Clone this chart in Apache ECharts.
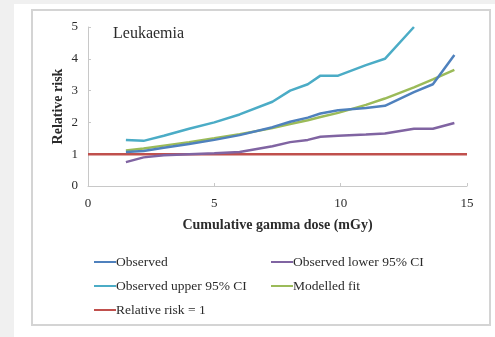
<!DOCTYPE html>
<html>
<head>
<meta charset="utf-8">
<script src="https://cdn.jsdelivr.net/npm/echarts@6/dist/echarts.min.js"></script>
<style>
  html, body { margin: 0; padding: 0; background: #f0f0f0; }
  #chart { width: 495px; height: 337px; }
</style>
</head>
<body>
<div id="chart"></div>
<script>
// Cumulative gamma dose (mGy) at which each estimate is reported
const doses = [1.5, 2.2, 3, 4, 5, 6, 7.3, 8, 8.7, 9.2, 9.9, 11, 11.75, 12.9, 13.65, 14.5];

// Relative risk estimates
const observed      = [1.07, 1.10, 1.20, 1.32, 1.45, 1.60, 1.85, 2.02, 2.15, 2.28, 2.38, 2.45, 2.52, 2.95, 3.20, 4.12];
const observedLower = [0.75, 0.90, 0.97, 1.00, 1.03, 1.07, 1.25, 1.38, 1.45, 1.55, 1.58, 1.62, 1.65, 1.80, 1.80, 1.98];
const observedUpper = [1.45, 1.42, 1.58, 1.80, 2.00, 2.25, 2.65, 3.00, 3.20, 3.47, 3.47, 3.80, 4.00, 5.00, null, null];
const modelledFit   = [1.12, 1.18, 1.27, 1.38, 1.50, 1.63, 1.82, 1.95, 2.07, 2.17, 2.30, 2.55, 2.75, 3.10, 3.35, 3.65];

// Reference line: relative risk of 1 across the whole dose range
const referenceDoses = [0, 15];
const referenceRisk  = [1, 1];

const xTicks = { min: 0, max: 15, interval: 5 };
const yTicks = { min: 0, max: 5, interval: 1 };

const serif = '"Liberation Serif", "DejaVu Serif", serif';
const ink = '#2b2b2b';

function pairs(xs, ys) {
  return xs.map((x, i) => [x, ys[i]]).filter(p => p[1] !== null);
}

function lineSeries(name, data, color) {
  return {
    name: name,
    type: 'line',
    data: data,
    showSymbol: false,
    symbol: 'none',
    lineStyle: { color: color, width: 2.5 },
    itemStyle: { color: color },
    emphasis: { disabled: true },
    clip: true
  };
}

const legendCommon = {
  orient: 'vertical',
  icon: 'rect',
  itemWidth: 22,
  itemHeight: 2,
  itemGap: 10,
  textStyle: { fontFamily: serif, fontSize: 13.5, color: ink, padding: [0, 0, 0, -5] },
  selectedMode: false
};

const chart = echarts.init(document.getElementById('chart'), null, { renderer: 'canvas' });
chart.setOption({
  animation: false,
  backgroundColor: 'transparent',
  graphic: [
    { type: 'rect', shape: { x: 14, y: 4, width: 481, height: 333 }, style: { fill: '#ffffff' }, z: -10 },
    { type: 'rect', shape: { x: 32, y: 10, width: 458, height: 315 }, style: { fill: '#ffffff', stroke: '#d4d4d4', lineWidth: 2 }, z: -9 },
    { type: 'text', left: 113, top: 26, style: { text: 'Leukaemia', font: '16px ' + serif, fill: ink } }
  ],
  grid: { left: 88, right: 28, top: 27, bottom: 151 },
  xAxis: {
    type: 'value',
    min: xTicks.min, max: xTicks.max, interval: xTicks.interval,
    name: 'Cumulative gamma dose (mGy)',
    nameLocation: 'middle',
    nameGap: 32,
    nameMoveOverlap: false,
    nameTextStyle: { fontFamily: serif, fontSize: 14, fontWeight: 'bold', color: ink },
    axisLine: { show: true, lineStyle: { color: '#c8c8c8', width: 1 } },
    axisTick: { show: true, inside: true, length: 3, lineStyle: { color: '#c8c8c8' } },
    axisLabel: { fontFamily: serif, fontSize: 13, color: ink, margin: 11 },
    splitLine: { show: false }
  },
  yAxis: {
    type: 'value',
    min: yTicks.min, max: yTicks.max, interval: yTicks.interval,
    name: 'Relative risk',
    nameLocation: 'middle',
    nameGap: 23,
    nameMoveOverlap: false,
    nameRotate: 90,
    nameTextStyle: { fontFamily: serif, fontSize: 14, fontWeight: 'bold', color: ink },
    axisLine: { show: true, lineStyle: { color: '#c8c8c8', width: 1 } },
    axisTick: { show: true, inside: true, length: 3, lineStyle: { color: '#c8c8c8' } },
    axisLabel: { fontFamily: serif, fontSize: 13, color: ink, margin: 10 },
    splitLine: { show: false }
  },
  legend: [
    Object.assign({ left: 89, top: 250, data: ['Observed', 'Observed upper 95% CI', 'Relative risk = 1'] }, legendCommon),
    Object.assign({ left: 266, top: 250, data: ['Observed lower 95% CI', 'Modelled fit'] }, legendCommon)
  ],
  series: [
    lineSeries('Relative risk = 1', pairs(referenceDoses, referenceRisk), '#C0504D'),
    lineSeries('Observed lower 95% CI', pairs(doses, observedLower), '#8064A2'),
    lineSeries('Observed upper 95% CI', pairs(doses, observedUpper), '#4BACC6'),
    lineSeries('Modelled fit', pairs(doses, modelledFit), '#9BBB59'),
    lineSeries('Observed', pairs(doses, observed), '#4F81BD')
  ]
});
</script>
</body>
</html>
